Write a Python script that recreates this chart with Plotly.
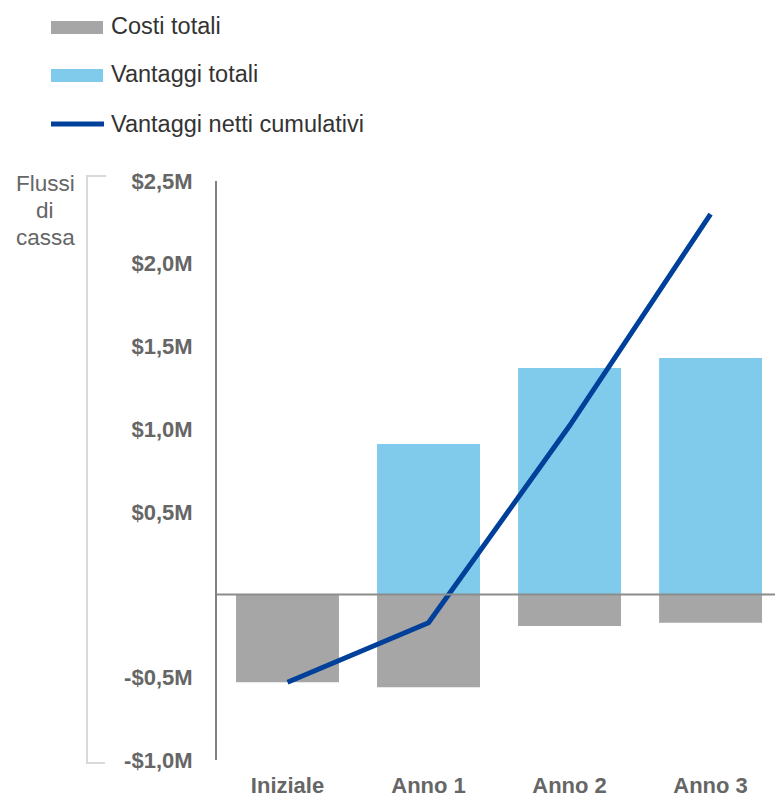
import plotly.graph_objects as go

categories = ["Iniziale", "Anno 1", "Anno 2", "Anno 3"]
costi = [-0.53, -0.56, -0.19, -0.17]
vantaggi = [0.0, 0.91, 1.37, 1.43]
netti = [-0.53, -0.17, 1.02, 2.30]
tick_vals = [-1.0, -0.5, 0.5, 1.0, 1.5, 2.0, 2.5]
tick_text = ["-$1,0M", "-$0,5M", "$0,5M", "$1,0M", "$1,5M", "$2,0M", "$2,5M"]

W, H = 775, 798
L, R, T, B = 217, 0, 181, 38
PW, PH = W - L - R, H - T - B

def px(x):
    return (x - L) / PW

def py(y):
    return (H - B - y) / PH

FONT = "Liberation Sans, Arial, sans-serif"
GRAY_BAR = "#a6a6a6"
BLUE_BAR = "#80cbec"
LINE = "#00409a"

fig = go.Figure()
fig.add_trace(go.Bar(x=categories, y=costi, marker=dict(color=GRAY_BAR, line=dict(width=0)),
                     width=0.73, name="Costi totali", hoverinfo="skip"))
fig.add_trace(go.Bar(x=categories, y=vantaggi, marker=dict(color=BLUE_BAR, line=dict(width=0)),
                     width=0.73, name="Vantaggi totali", hoverinfo="skip"))
fig.add_trace(go.Scatter(x=categories, y=netti, mode="lines",
                         line=dict(color=LINE, width=5), name="Vantaggi netti cumulativi",
                         hoverinfo="skip"))

shapes = []
# zero line
shapes.append(dict(type="line", xref="paper", yref="y", x0=0, x1=1, y0=0, y1=0,
                   line=dict(color="#8c8c8c", width=2)))
# bracket
bc = "#d9d9d9"
shapes.append(dict(type="line", xref="paper", yref="paper", x0=px(87), x1=px(87), y0=py(176), y1=py(763),
                   line=dict(color=bc, width=2)))
shapes.append(dict(type="line", xref="paper", yref="paper", x0=px(86), x1=px(106), y0=py(176), y1=py(176),
                   line=dict(color=bc, width=2)))
shapes.append(dict(type="line", xref="paper", yref="paper", x0=px(86), x1=px(105), y0=py(763), y1=py(763),
                   line=dict(color=bc, width=2)))
# legend swatches
shapes.append(dict(type="rect", xref="paper", yref="paper", x0=px(51), x1=px(103), y0=py(34), y1=py(21),
                   fillcolor=GRAY_BAR, line=dict(width=0)))
shapes.append(dict(type="rect", xref="paper", yref="paper", x0=px(51), x1=px(103), y0=py(82), y1=py(69),
                   fillcolor=BLUE_BAR, line=dict(width=0)))
shapes.append(dict(type="line", xref="paper", yref="paper", x0=px(51), x1=px(104), y0=py(124), y1=py(124),
                   line=dict(color=LINE, width=5)))

annotations = []
legend_items = [("Costi totali", 26), ("Vantaggi totali", 74), ("Vantaggi netti cumulativi", 124)]
for txt, yy in legend_items:
    annotations.append(dict(text=txt, xref="paper", yref="paper", x=px(109), y=py(yy),
                            xanchor="left", yanchor="middle", showarrow=False,
                            font=dict(family=FONT, size=23.5, color="#333333")))
for txt, yy in [("Flussi", 183), ("di", 210), ("cassa", 237)]:
    annotations.append(dict(text=txt, xref="paper", yref="paper", x=px(45), y=py(yy),
                            xanchor="center", yanchor="middle", showarrow=False,
                            font=dict(family=FONT, size=22.5, color="#666666")))

fig.update_layout(
    width=W, height=H,
    margin=dict(l=L, r=R, t=T, b=B, pad=0),
    barmode="relative",
    bargap=0.27,
    showlegend=False,
    plot_bgcolor="white", paper_bgcolor="white",
    shapes=shapes, annotations=annotations,
    xaxis=dict(range=[-0.5, 3.457], showgrid=False, zeroline=False, showline=False,
               automargin=False,
               ticks="outside", ticklen=6, tickcolor="rgba(0,0,0,0)",
               tickfont=dict(family=FONT, size=22, color="#666666", weight="bold")),
    yaxis=dict(range=[-1.0, 2.5], showgrid=False, zeroline=False, showline=True,
               automargin=False,
               linecolor="#808080", linewidth=2, tickvals=tick_vals, ticktext=tick_text,
               ticks="outside", ticklen=18, tickcolor="rgba(0,0,0,0)",
               tickfont=dict(family=FONT, size=22, color="#666666", weight="bold")),
)

fig.write_html("out.html")
